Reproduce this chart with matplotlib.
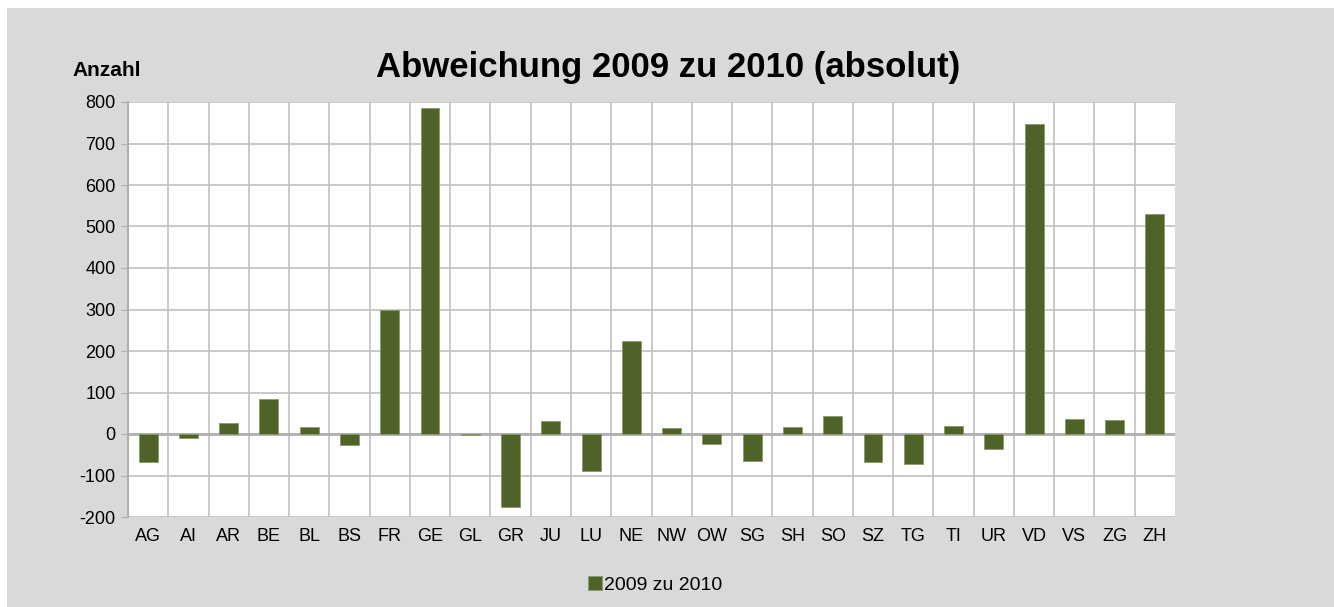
import numpy as np
import matplotlib
matplotlib.use("Agg")
import matplotlib.pyplot as plt
from matplotlib.patches import Rectangle

plt.rcParams['font.family'] = ['Liberation Sans', 'DejaVu Sans']

# Kantone und Abweichung 2009 zu 2010
kantone = ['AG', 'AI', 'AR', 'BE', 'BL', 'BS', 'FR', 'GE', 'GL', 'GR', 'JU', 'LU', 'NE',
           'NW', 'OW', 'SG', 'SH', 'SO', 'SZ', 'TG', 'TI', 'UR', 'VD', 'VS', 'ZG', 'ZH']
abweichung = [-68, -10, 27, 84, 18, -26, 299, 786, -2, -177, 31, -90, 224,
              14, -23, -66, 16, 44, -68, -73, 19, -36, 748, 36, 33, 531]
y_ticks = [-200, -100, 0, 100, 200, 300, 400, 500, 600, 700, 800]

W, H = 1334, 607
fig = plt.figure(figsize=(W / 100, H / 100), dpi=100)
fig.patch.set_facecolor('white')
# grauer Diagrammbereich
fig.patches.append(Rectangle((7 / W, 0), 1 - 7 / W, 1 - 8 / H, transform=fig.transFigure,
                             facecolor='#d9d9d9', edgecolor='none', zorder=-10))

ax = fig.add_axes([128 / W, 1 - 517 / H, (1175 - 128) / W, (517 - 102) / H])
ax.set_zorder(1)
ax.set_facecolor('white')

x = np.arange(len(kantone))
ax.bar(x, abweichung, width=0.47, color='#4f6228', edgecolor='#8a9a6a', linewidth=0.6,
       zorder=3, label='2009 zu 2010')

ax.set_xlim(-0.5, len(kantone) - 0.5)
ax.set_ylim(-200, 800)
ax.set_yticks(y_ticks)
ax.set_yticklabels([str(v) for v in y_ticks], fontsize=13)
ax.set_xticks(x)
ax.set_xticklabels(kantone, fontsize=13)

# Gitter: horizontal je 100, vertikal zwischen den Kategorien
for v in y_ticks:
    ax.axhline(v, color='#c0c0c0', linewidth=1.2, zorder=1)
for b in np.arange(0.5, len(kantone) - 0.5, 1):
    ax.axvline(b, color='#c0c0c0', linewidth=1.2, zorder=1)
ax.axhline(0, color='#b0b0b0', linewidth=2, zorder=2)

for side in ['top', 'right', 'bottom']:
    ax.spines[side].set_visible(False)
ax.spines['left'].set_color('#b0b0b0')
ax.spines['left'].set_linewidth(1.5)
ax.tick_params(axis='y', length=5, color='#b0b0b0', pad=4)
ax.tick_params(axis='x', length=0, pad=8)

fig.text(668 / W, 1 - 68 / H, 'Abweichung 2009 zu 2010 (absolut)', ha='center', va='center',
         fontsize=25, fontweight='bold')
fig.text(72 / W, 1 - 70 / H, 'Anzahl', ha='left', va='center', fontsize=15, fontweight='bold')

leg = fig.legend(loc='center', bbox_to_anchor=(655 / W, 1 - 585 / H), frameon=False,
                 fontsize=14, handlelength=0.7, handleheight=0.7, handletextpad=0.1)

fig.savefig('out.png', dpi=100, facecolor=fig.get_facecolor())
